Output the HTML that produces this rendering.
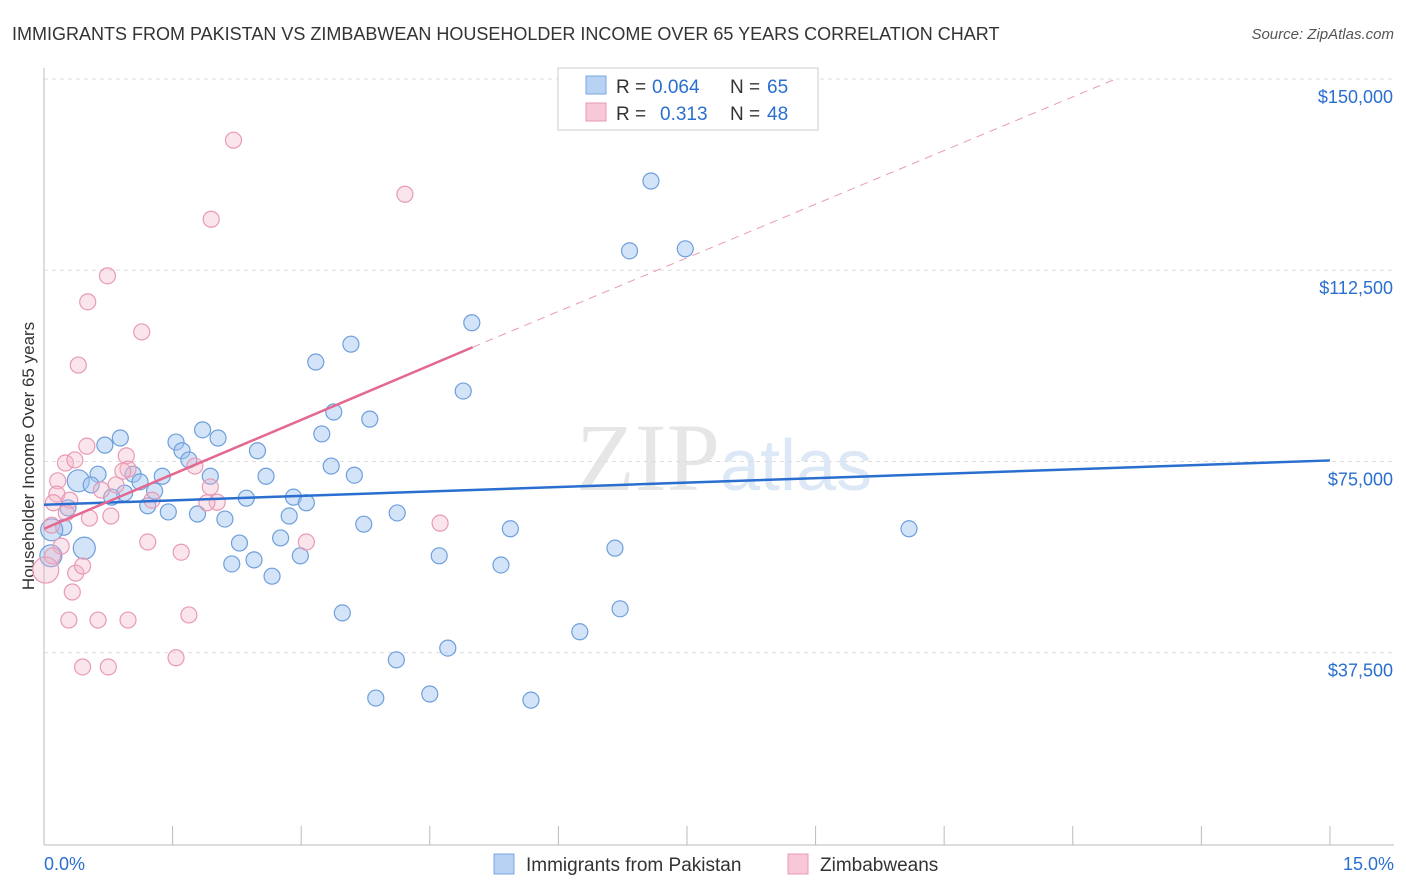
<!DOCTYPE html>
<html><head><meta charset="utf-8"><style>
body{margin:0;background:#fff;font-family:"Liberation Sans",sans-serif;}
#wrap{position:relative;width:1406px;height:892px;overflow:hidden}
</style></head><body>
<div id="wrap">
<svg id="svg" width="1406" height="892">
<text x="12" y="40" font-size="18" fill="#333">IMMIGRANTS FROM PAKISTAN VS ZIMBABWEAN HOUSEHOLDER INCOME OVER 65 YEARS CORRELATION CHART</text>
<text x="1394" y="39" font-size="15" fill="#555" font-style="italic" text-anchor="end">Source: ZipAtlas.com</text>
<text x="720" y="490" font-size="96" fill="#e6e6e6" font-family="Liberation Serif" text-anchor="end">ZIP</text>
<text x="720" y="490" font-size="72" fill="#dce8f6">atlas</text>
<text transform="translate(34,456) rotate(-90)" font-size="17" fill="#333" text-anchor="middle">Householder Income Over 65 years</text>
<g id="grid"></g><g id="marks"></g>
<g>
<rect x="558" y="68" width="260" height="62" fill="#fff" stroke="#ccc"/>
<rect x="586" y="76" width="20" height="18" fill="#b8d2f4" stroke="#7aa6dc"/>
<rect x="586" y="103" width="20" height="18" fill="#f8c8d8" stroke="#e89ab4"/>
<g font-size="19" fill="#333">
<text x="616" y="93">R =</text><text x="652" y="93" fill="#2a6fd0">0.064</text><text x="730" y="93">N =</text><text x="767" y="93" fill="#2a6fd0">65</text>
<text x="616" y="120">R =</text><text x="660" y="120" fill="#2a6fd0">0.313</text><text x="730" y="120">N =</text><text x="767" y="120" fill="#2a6fd0">48</text>
</g>
</g>
<g>
<rect x="494" y="854" width="20" height="20" fill="#b8d2f4" stroke="#7aa6dc"/>
<text x="526" y="871" font-size="19" fill="#333">Immigrants from Pakistan</text>
<rect x="788" y="854" width="20" height="20" fill="#f8c8d8" stroke="#e89ab4"/>
<text x="820" y="871" font-size="19" fill="#333">Zimbabweans</text>
</g>
</svg></div>
<script>
const yTicks=[37500,75000,112500,150000];
const yTickLabels=["$37,500","$75,000","$112,500","$150,000"];
const blueX=[7.08,6.83,7.48,4.99,3.58,3.17,4.89,3.38,3.80,3.24,0.89,2.03,1.85,1.54,0.71,1.61,2.49,1.69,3.35,0.63,1.38,1.94,2.59,3.62,1.04,0.40,1.12,0.55,1.29,0.94,0.79,2.36,2.91,3.06,1.21,1.45,1.79,2.11,2.86,4.12,0.28,0.23,0.09,3.73,5.44,10.09,2.28,2.76,0.47,6.66,2.99,4.61,2.45,2.19,5.33,2.66,0.08,3.48,6.72,6.25,4.11,4.71,3.87,4.50,5.68];
const blueY=[130.0,116.3,116.7,102.2,98.0,94.5,88.8,84.7,83.3,80.4,79.6,79.6,81.2,78.8,78.2,77.1,77.1,75.3,74.1,72.5,72.1,72.1,72.1,72.3,72.5,71.2,71.0,70.4,69.2,68.8,68.0,67.8,68.0,66.9,66.3,65.1,64.7,63.7,64.3,64.9,65.9,62.1,61.6,62.7,61.8,61.8,59.0,60.0,58.0,58.0,56.5,56.5,55.7,54.9,54.7,52.5,56.5,45.3,46.1,41.6,36.1,38.4,28.6,29.4,28.2];
const blueBig=[25,42,56,48];
const pinkX=[2.21,1.95,4.21,0.74,0.51,1.14,0.40,0.50,0.25,0.36,0.96,0.98,0.92,1.76,0.16,0.84,1.94,0.67,0.15,0.30,1.26,2.02,0.11,1.90,0.26,0.53,0.78,4.62,0.09,1.21,3.06,0.20,1.60,0.10,0.02,0.37,0.45,0.33,0.29,0.63,0.98,1.69,1.54,0.45,0.75];
const pinkY=[138.0,122.5,127.4,111.4,106.3,100.4,93.9,78.0,74.7,75.3,76.1,73.5,73.1,74.1,71.2,70.4,70.0,69.4,68.6,67.4,67.4,67.0,66.9,66.9,64.9,63.9,64.3,62.9,62.5,59.2,59.2,58.4,57.2,56.5,53.7,53.1,54.5,49.4,43.9,43.9,43.9,44.9,36.5,34.7,34.7];
const pinkBig=[34];
const blueTrend=[[0,66.5],[15,75.2]];
const pinkTrend=[[0,61.8],[5,97.4],[12.5,150]];
const X=v=>44+v*85.73, Y=k=>79+(150-k)/0.1961;
const NS="http://www.w3.org/2000/svg";
function mk(t,a,p){const e=document.createElementNS(NS,t);for(const k in a)e.setAttribute(k,a[k]);p.appendChild(e);return e;}
const grid=document.getElementById('grid'),marks=document.getElementById('marks');
yTicks.forEach((v,i)=>{const y=Y(v/1000);
 const l=mk('line',{x1:44,x2:1394,y1:y,y2:y,stroke:'#ddd','stroke-dasharray':'4 4'},grid);
 
 
 const t=mk('text',{x:1393,y:y+24,'font-size':18,fill:'#2a6fd0','text-anchor':'end'},grid);t.textContent=yTickLabels[i];
 
 
});
mk('line',{x1:44,x2:44,y1:68,y2:845,stroke:'#bbb'},grid);
mk('line',{x1:44,x2:1394,y1:845,y2:845,stroke:'#bbb'},grid);
for(let i=0;i<=10;i++){const x=X(i*1.5);const tk=mk('line',{x1:x,x2:x,y1:826,y2:845,stroke:'#bbb'},grid);
 
 }
const xl0=mk('text',{x:44,y:870,'font-size':18,fill:'#2a6fd0'},grid);xl0.textContent='0.0%';


const xl1=mk('text',{x:1394,y:870,'font-size':18,fill:'#2a6fd0','text-anchor':'end'},grid);xl1.textContent='15.0%';


blueX.forEach((v,i)=>{const c=mk('circle',{cx:X(v),cy:Y(blueY[i]),r:blueBig.includes(i)?11:8,fill:'rgba(160,196,240,0.45)',stroke:'#6e9fdc','stroke-width':1.2},marks);
 
 });
pinkX.forEach((v,i)=>{const c=mk('circle',{cx:X(v),cy:Y(pinkY[i]),r:pinkBig.includes(i)?13:8,fill:'rgba(244,180,200,0.35)',stroke:'#e89ab4','stroke-width':1.2},marks);
 
 });
const bt=mk('line',{x1:X(blueTrend[0][0]),y1:Y(blueTrend[0][1]),x2:X(blueTrend[1][0]),y2:Y(blueTrend[1][1]),stroke:'#2a6fd0','stroke-width':2.5},marks);


const pt=mk('line',{x1:X(pinkTrend[0][0]),y1:Y(pinkTrend[0][1]),x2:X(pinkTrend[1][0]),y2:Y(pinkTrend[1][1]),stroke:'#e4688f','stroke-width':2.5},marks);


const pd=mk('line',{x1:X(pinkTrend[1][0]),y1:Y(pinkTrend[1][1]),x2:X(pinkTrend[2][0]),y2:Y(pinkTrend[2][1]),stroke:'#e89ab4','stroke-width':1,'stroke-dasharray':'8 6'},marks);


</script>
</body></html>
